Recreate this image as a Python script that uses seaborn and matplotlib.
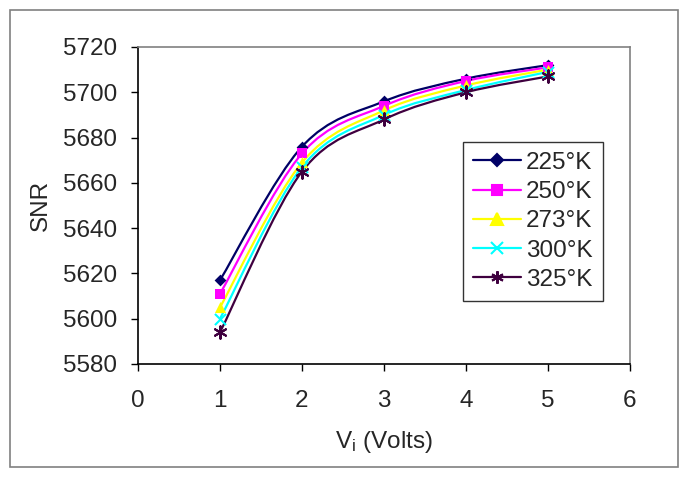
import numpy as np
import pandas as pd
import matplotlib
matplotlib.use("Agg")
import matplotlib.pyplot as plt
import seaborn as sns
from matplotlib.path import Path
from matplotlib.patches import PathPatch, Rectangle
from matplotlib.lines import Line2D

# data
volts = [1, 2, 3, 4, 5]
temps = ["225°K", "250°K", "273°K", "300°K", "325°K"]
snr_225 = [5617, 5676, 5696, 5706, 5712]
snr_250 = [5611, 5673, 5694, 5705, 5711]
snr_273 = [5605, 5669, 5692, 5703, 5710]
snr_300 = [5600, 5667, 5690, 5701, 5709]
snr_325 = [5594, 5665, 5688, 5700, 5707]

colors = ["#000066", "#FF00FF", "#FFFF00", "#00FFFF", "#3F003F"]
markers = ["D", "s", "^", "x", (6, 2, 0)]
msizes = [6, 7, 8, 8, 9]

df = pd.DataFrame({
    "V": volts * 5,
    "SNR": snr_225 + snr_250 + snr_273 + snr_300 + snr_325,
    "T": [t for t in temps for _ in volts],
})

sns.set_style("ticks")
plt.rcParams["font.family"] = ["Liberation Sans", "DejaVu Sans"]
plt.rcParams["mathtext.default"] = "regular"

fig = plt.figure(figsize=(6.88, 4.78), dpi=100)
ax = fig.add_axes([138 / 688, 1 - 364 / 478, (630 - 138) / 688, (364 - 47) / 478])

# chart area border
fig.patches.append(Rectangle((10 / 688, 11 / 478), 668 / 688, 457 / 478,
                             transform=fig.transFigure, fill=False,
                             edgecolor="#808080", linewidth=1.2))


def smooth_path(xs, ys):
    # Excel-like smoothed line: cubic bezier through the points
    pts = np.column_stack([xs, ys]).astype(float)
    ext = np.vstack([pts[0], pts, pts[-1]])
    verts = [pts[0]]
    codes = [Path.MOVETO]
    for i in range(len(pts) - 1):
        p0, p1, p2, p3 = ext[i], ext[i + 1], ext[i + 2], ext[i + 3]
        verts += [p1 + (p2 - p0) / 6, p2 - (p3 - p1) / 6, p2]
        codes += [Path.CURVE4] * 3
    return Path(verts, codes)


handles = []
for t, c, m, ms in zip(temps, colors, markers, msizes):
    sub = df[df["T"] == t]
    ax.add_patch(PathPatch(smooth_path(sub["V"], sub["SNR"]), fill=False,
                           edgecolor=c, linewidth=1.6, zorder=2))
    sns.scatterplot(data=sub, x="V", y="SNR", ax=ax, marker=m, s=ms ** 2,
                    color=c, edgecolor=c, linewidth=1.5 if m in ("x", (6, 2, 0)) else 0,
                    zorder=3, legend=False)
    handles.append(Line2D([], [], color=c, marker=m, markersize=ms,
                          markeredgewidth=1.5, linewidth=1.6, label=t))

ax.set_xlim(0, 6)
ax.set_ylim(5580, 5720)
ax.set_xticks(range(0, 7))
ax.set_yticks(range(5580, 5721, 20))
ax.tick_params(labelsize=17.5, length=5, width=1, color="black", direction="out")
ax.tick_params(axis="y", pad=10)
ax.tick_params(axis="x", pad=14)
ax.set_xlabel("V$_{i}$ (Volts)", fontsize=17.5, labelpad=12)
ax.set_ylabel("SNR", fontsize=17.5, labelpad=8)
for s in ["left", "bottom"]:
    ax.spines[s].set_color("black")
for s in ["top", "right"]:
    ax.spines[s].set_color("#808080")
    ax.spines[s].set_visible(True)
for s in ax.spines.values():
    s.set_linewidth(1.2)

leg = ax.legend(handles=handles, loc="upper left",
                bbox_to_anchor=(463 / 688, 1 - 142 / 478),
                bbox_transform=fig.transFigure, fontsize=17.5,
                frameon=True, fancybox=False, edgecolor="black",
                borderaxespad=0, handlelength=2.0, labelspacing=0.3,
                handletextpad=0.2, borderpad=0.4)
leg.get_frame().set_linewidth(1)

fig.savefig("out.png", dpi=100)
